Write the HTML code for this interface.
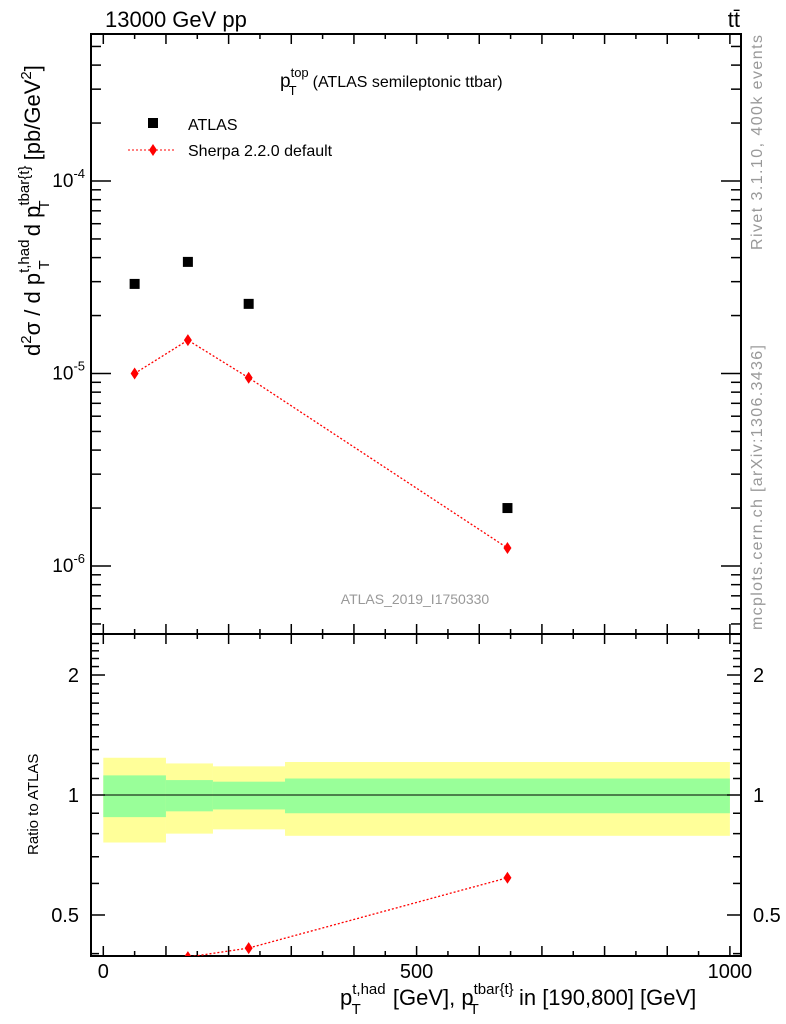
<!DOCTYPE html>
<html><head><meta charset="utf-8"><style>
body{margin:0;background:#fff}
svg{display:block;font-family:"Liberation Sans",sans-serif}
</style></head><body>
<svg id="c" width="786" height="1024" viewBox="0 0 786 1024">
<text x="105" y="27" font-size="22">13000 GeV pp</text>
<text x="740" y="27" font-size="22" text-anchor="end">tt̄</text>
<text x="280" y="87" font-size="19">p<tspan dy="-10" font-size="13">top</tspan><tspan dx="-20" dy="18" font-size="13">T</tspan><tspan dx="16" dy="-8" font-size="16">(ATLAS semileptonic ttbar)</tspan></text>
<g>
<rect x="148" y="118" width="10" height="10" fill="#000"/>
<text x="188" y="130" font-size="16">ATLAS</text>
<line x1="128" y1="150" x2="176" y2="150" stroke="red" stroke-dasharray="2,2"/>
<path d="M153,144 L157,150 L153,156 L149,150Z" fill="red"/>
<text x="188" y="156" font-size="16">Sherpa 2.2.0 default</text>
</g>
<text x="415" y="604" font-size="14" fill="#999" text-anchor="middle">ATLAS_2019_I1750330</text>
<text transform="translate(762,250) rotate(-90)" font-size="16" fill="#999" textLength="215">Rivet 3.1.10,  400k events</text>
<text transform="translate(762,630) rotate(-90)" font-size="16" fill="#999" textLength="285">mcplots.cern.ch [arXiv:1306.3436]</text>
<text transform="translate(40,356) rotate(-90)" font-size="22">d<tspan dy="-9" font-size="15">2</tspan><tspan dy="9">σ / d p</tspan><tspan dy="-11" font-size="15">t,had</tspan><tspan dx="-30" dy="20" font-size="15">T</tspan><tspan dx="18" dy="-9"> d p</tspan><tspan dy="-11" font-size="15">tbar{t}</tspan><tspan dx="-44" dy="20" font-size="15">T</tspan><tspan dx="34" dy="-9"> [pb/GeV</tspan><tspan dy="-9" font-size="15">2</tspan><tspan dy="9">]</tspan></text>
<text transform="translate(38,855) rotate(-90)" font-size="15">Ratio to ATLAS</text>
<text x="340" y="1005" font-size="22">p<tspan dy="-11" font-size="15">t,had</tspan><tspan dx="-34" dy="20" font-size="15">T</tspan><tspan dx="26" dy="-9"> [GeV], p</tspan><tspan dy="-11" font-size="15">tbar{t}</tspan><tspan dx="-44" dy="20" font-size="15">T</tspan><tspan dx="34" dy="-9"> in [190,800] [GeV]</tspan></text>
<g id="g"></g>
</svg>
<script>
const xBins=[0,100,175,290,1000];
const xCenters=[50,135,232,645];
const atlasVals=[2.92e-5,3.8e-5,2.3e-5,2.0e-6];
const sherpaVals=[1.0e-5,1.49e-5,9.5e-6,1.24e-6];
const bandYellow=[0.24,0.20,0.18,0.21];
const bandGreen=[0.12,0.09,0.08,0.10];
const xTicks=[0,500,1000];
const ratioTicks=[0.5,1,2];
const NS='http://www.w3.org/2000/svg';
const g=document.getElementById('g');
const L=91,R=741,T=34,M=634,B=956;
const X=v=>103.3+v*0.6266;
const Y=v=>181-(Math.log10(v)+4)*192.5;
const YR=v=>795-Math.log10(v)*398.6;
function mk(t,a,p){const e=document.createElementNS(NS,t);for(const k in a)e.setAttribute(k,a[k]);(p||g).appendChild(e);return e;}
const cp=mk('clipPath',{id:'rc'});mk('rect',{x:L,y:M,width:R-L,height:B-M},cp);
const cm=mk('clipPath',{id:'mc'});mk('rect',{x:L,y:T,width:R-L,height:M-T},cm);
for(let i=0;i<4;i++){
 let r=mk('rect',{x:X(xBins[i]),y:YR(1+bandYellow[i]),width:X(xBins[i+1])-X(xBins[i]),height:YR(1-bandYellow[i])-YR(1+bandYellow[i]),fill:'#ffff99'});
 
 
 let q=mk('rect',{x:X(xBins[i]),y:YR(1+bandGreen[i]),width:X(xBins[i+1])-X(xBins[i]),height:YR(1-bandGreen[i])-YR(1+bandGreen[i]),fill:'#99ff99'});
 
 
}
let one=mk('line',{x1:L,x2:R,y1:YR(1),y2:YR(1),stroke:'#000','stroke-width':1});


let f1=mk('rect',{x:L,y:T,width:R-L,height:M-T,fill:'none',stroke:'#000','stroke-width':2});


let f2=mk('rect',{x:L,y:M,width:R-L,height:B-M,fill:'none',stroke:'#000','stroke-width':2});


for(let v=0;v<=1000;v+=50){
 const len=(v%100==0)?10:5, x=X(v);
 for(const y of [M,B]){mk('line',{x1:x,x2:x,y1:y,y2:y-len,stroke:'#000','stroke-width':1.5});}
 mk('line',{x1:x,x2:x,y1:T,y2:T+len,stroke:'#000','stroke-width':1.5});
 mk('line',{x1:x,x2:x,y1:M,y2:M+len,stroke:'#000','stroke-width':1.5});
}
xTicks.forEach(v=>{let t=mk('text',{x:X(v),y:978,'font-size':20,'text-anchor':'middle'});t.textContent=v;
 
 });
for(let d=-7;d<=-3;d++){for(let m=1;m<10;m++){const v=m*Math.pow(10,d),y=Y(v);if(y<T||y>M)continue;const len=m==1?20:10;
 mk('line',{x1:L,x2:L+len,y1:y,y2:y,stroke:'#000','stroke-width':1.5});mk('line',{x1:R,x2:R-len,y1:y,y2:y,stroke:'#000','stroke-width':1.5});
 if(m==1){let t=mk('text',{x:L-6,y:y+6,'font-size':19,'text-anchor':'end'});t.innerHTML='10<tspan dy="-9" font-size="13">'+d+'</tspan>';
 
 }}}
for(let v=0.4;v<=2.5;v+=0.1){const y=YR(v);if(y<M||y>B)continue;const maj=[0.5,1,2].some(a=>Math.abs(a-v)<1e-6);const len=maj?14:8;
 mk('line',{x1:L,x2:L+len,y1:y,y2:y,stroke:'#000','stroke-width':1.5});mk('line',{x1:R,x2:R-len,y1:y,y2:y,stroke:'#000','stroke-width':1.5});}
ratioTicks.forEach(v=>{for(const [x,a] of [[L-12,'end'],[R+12,'start']]){let t=mk('text',{x:x,y:YR(v)+7,'font-size':20,'text-anchor':a});t.textContent=v;
 
 }});
const mg=mk('g',{'clip-path':'url(#mc)'});
mk('polyline',{points:xCenters.map((x,i)=>X(x)+','+Y(sherpaVals[i])).join(' '),fill:'none',stroke:'red','stroke-dasharray':'2,2','stroke-width':1.3},mg);
xCenters.forEach((x,i)=>{
 let r=mk('rect',{x:X(x)-5,y:Y(atlasVals[i])-5,width:10,height:10,fill:'#000'},mg);
 
 
 const cx=X(x),cy=Y(sherpaVals[i]);
 let p=mk('path',{d:`M${cx},${cy-6}L${cx+4},${cy}L${cx},${cy+6}L${cx-4},${cy}Z`,fill:'red'},mg);
 
 
});
const rg=mk('g',{'clip-path':'url(#rc)'});
const ratios=sherpaVals.map((s,i)=>s/atlasVals[i]);
mk('polyline',{points:xCenters.map((x,i)=>X(x)+','+YR(ratios[i])).join(' '),fill:'none',stroke:'red','stroke-dasharray':'2,2','stroke-width':1.3},rg);
xCenters.forEach((x,i)=>{const cx=X(x),cy=YR(ratios[i]);
 let p=mk('path',{d:`M${cx},${cy-6}L${cx+4},${cy}L${cx},${cy+6}L${cx-4},${cy}Z`,fill:'red'},rg);
 
 });
</script>
</body></html>
